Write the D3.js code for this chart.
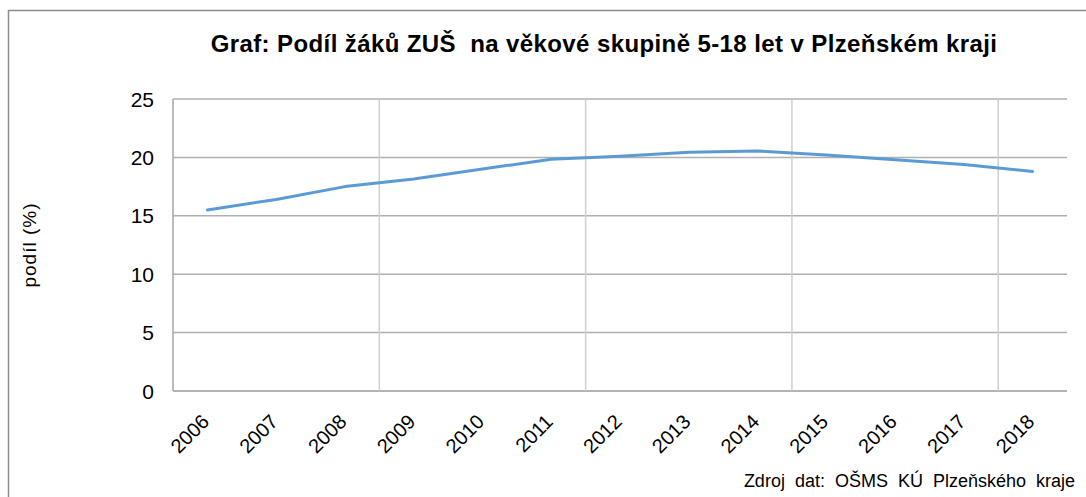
<!DOCTYPE html>
<html><head><meta charset="utf-8">
<script src="https://cdn.jsdelivr.net/npm/d3@7"></script>
<style>body{margin:0;background:#fff}svg{display:block;font-family:"Liberation Sans",Arial,sans-serif}</style>
</head><body><svg id="c" width="1086" height="497"></svg>
<script>
const years = ["2006","2007","2008","2009","2010","2011","2012","2013","2014","2015","2016","2017","2018"];
const shares = [15.5,16.4,17.5,18.15,19.0,19.85,20.1,20.45,20.55,20.2,19.8,19.4,18.8];
const yTicks = [0,5,10,15,20,25];
const gridYears = ["2006","2009","2012","2015","2018"];
const title = "Graf: Podíl žáků ZUŠ  na věkové skupině 5-18 let v Plzeňském kraji";
const yTitle = "podíl (%)";
const source = "Zdroj dat: OŠMS KÚ Plzeňského kraje";

const svg = d3.select("#c");
const L=173, R=1067, T=99, B=391;
const x = d3.scaleBand().domain(years).range([L,R]);
const y = d3.scaleLinear().domain([0,25]).range([B,T]);

// outer border
svg.append("rect").attr("x",8.5).attr("y",10.5).attr("width",1100).attr("height",520)
  .attr("fill","none").attr("stroke","#8c8c8c").attr("stroke-width",1.5);

// horizontal grid
svg.append("g").selectAll("line").data(yTicks).join("line")
  .attr("x1",L).attr("x2",R).attr("y1",d=>y(d)).attr("y2",d=>y(d))
  .attr("stroke",d=>d===0?"#9a9a9a":"#b0b0b0").attr("stroke-width",1.5);
// vertical grid (at band starts)
svg.append("g").selectAll("line").data(gridYears.slice(1,5)).join("line")
  .attr("x1",d=>x(d)).attr("x2",d=>x(d)).attr("y1",T).attr("y2",B)
  .attr("stroke","#d0d0d0").attr("stroke-width",1.5);
svg.append("line").attr("x1",L).attr("x2",L).attr("y1",T).attr("y2",B)
  .attr("stroke","#a6a6a6").attr("stroke-width",1.5);

// y tick labels
svg.append("g").selectAll("text").data(yTicks).join("text")
  .attr("x",154).attr("y",d=>y(d)).attr("dy","0.36em").attr("text-anchor","end")
  .attr("font-size",21).attr("fill","#000").text(d=>d);

// x labels
svg.append("g").selectAll("text").data(years).join("text")
  .attr("transform",d=>`translate(${x(d)+x.bandwidth()/2+3},${B+32}) rotate(-45)`)
  .attr("text-anchor","end").attr("font-size",20).attr("fill","#000").text(d=>d);

// line
const line = d3.line().x((d,i)=>x(years[i])+x.bandwidth()/2).y(d=>y(d));
svg.append("path").datum(shares).attr("d",line).attr("fill","none")
  .attr("stroke","#5B9BD5").attr("stroke-width",3).attr("stroke-linecap","round").attr("stroke-linejoin","round");

// title
svg.append("text").attr("x",604).attr("y",52).attr("text-anchor","middle")
  .attr("font-size",24).attr("letter-spacing",0.4).attr("font-weight","bold").attr("fill","#000")
  .style("white-space","pre").attr("xml:space","preserve").text(title);

// y title
svg.append("text").attr("transform","translate(36,245) rotate(-90)").attr("text-anchor","middle")
  .attr("font-size",19).attr("letter-spacing",1).attr("fill","#000").text(yTitle);

// source
svg.append("text").attr("x",1075).attr("y",487).attr("text-anchor","end")
  .attr("font-size",18).attr("word-spacing",5).attr("fill","#000").text(source);
</script></body></html>
